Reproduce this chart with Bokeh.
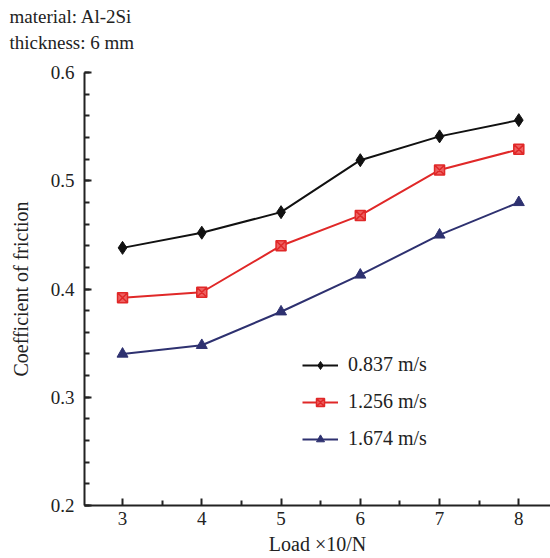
from bokeh.plotting import figure
from bokeh.models import FixedTicker, Range1d, Legend, LegendItem, Title
from bokeh.embed import file_html
from bokeh.resources import INLINE

loads = [3, 4, 5, 6, 7, 8]
mu_0837 = [0.438, 0.452, 0.471, 0.519, 0.541, 0.556]
mu_1256 = [0.392, 0.397, 0.440, 0.468, 0.510, 0.529]
mu_1674 = [0.340, 0.348, 0.379, 0.413, 0.450, 0.480]
labels = ["0.837 m/s", "1.256 m/s", "1.674 m/s"]
y_ticks = [0.2, 0.3, 0.4, 0.5, 0.6]
x_ticks = [3, 4, 5, 6, 7, 8]
title_lines = ["material: Al-2Si", "thickness: 6 mm"]

FONT = "Liberation Serif"
TXT = "#222222"

p = figure(width=550, height=558, output_backend="svg", toolbar_location=None,
           x_range=Range1d(2.52, 8.4), y_range=Range1d(0.2, 0.6),
           min_border_left=84, min_border_right=0, min_border_top=72, min_border_bottom=53)
p.outline_line_color = None
p.grid.visible = False
p.background_fill_color = "white"

for ax in (p.xaxis[0], p.yaxis[0]):
    ax.axis_line_color = "#222222"
    ax.axis_line_width = 2
    ax.major_tick_line_color = "#222222"
    ax.minor_tick_line_color = "#222222"
    ax.major_tick_line_width = 2
    ax.minor_tick_line_width = 2
    ax.major_tick_in = 7
    ax.major_tick_out = 0
    ax.minor_tick_in = 5
    ax.minor_tick_out = 0
    ax.major_label_text_font = FONT
    ax.major_label_text_font_size = "19px"
    ax.major_label_text_color = TXT
    ax.axis_label_text_font = FONT
    ax.axis_label_text_font_size = "20px"
    ax.axis_label_text_font_style = "normal"
    ax.axis_label_text_color = TXT

p.xaxis[0].ticker = FixedTicker(ticks=x_ticks, minor_ticks=[3.5, 4.5, 5.5, 6.5, 7.5])
p.yaxis[0].ticker = FixedTicker(ticks=y_ticks,
                                minor_ticks=[round(0.2 + 0.02 * i, 2) for i in range(21)])
p.yaxis[0].formatter.use_scientific = False
p.xaxis[0].axis_label = "Load ×10/N"
p.yaxis[0].axis_label = "Coefficient of friction"
p.xaxis[0].major_label_standoff = 6
p.xaxis[0].axis_label_standoff = 5
p.yaxis[0].major_label_standoff = 10
p.yaxis[0].axis_label_standoff = 16

c_black, c_red, c_blue = "#111111", "#e02828", "#2e3170"

l1 = p.line(loads, mu_0837, line_color=c_black, line_width=2)
m1 = p.scatter(loads, mu_0837, marker="diamond", size=13, fill_color=c_black, line_color=c_black)
l2 = p.line(loads, mu_1256, line_color=c_red, line_width=2)
m2 = p.scatter(loads, mu_1256, marker="square_x", size=10, fill_color="#ee6060", line_color=c_red, line_width=1.5)
l3 = p.line(loads, mu_1674, line_color=c_blue, line_width=2)
m3 = p.scatter(loads, mu_1674, marker="triangle", size=11, fill_color=c_blue, line_color=c_blue)

legend = Legend(items=[LegendItem(label=labels[0], renderers=[l1, m1]),
                       LegendItem(label=labels[1], renderers=[l2, m2]),
                       LegendItem(label=labels[2], renderers=[l3, m3])],
                location=(218, 55), padding=0, margin=0, spacing=14,
                glyph_width=36, glyph_height=20, label_height=20, label_standoff=10,
                border_line_color=None, background_fill_alpha=0,
                label_text_font=FONT, label_text_font_size="20px", label_text_color=TXT)
p.add_layout(legend, "center")

# invisible spacer closest to the plot, then the two text lines
p.add_layout(Title(text=" ", standoff=5, text_font_size="10px"), "above")
for txt in reversed(title_lines):
    p.add_layout(Title(text=txt, align="left", offset=-75, standoff=3,
                       text_font=FONT, text_font_size="19px", text_font_style="normal",
                       text_color=TXT), "above")

open("out.html", "w").write(file_html(p, INLINE))
